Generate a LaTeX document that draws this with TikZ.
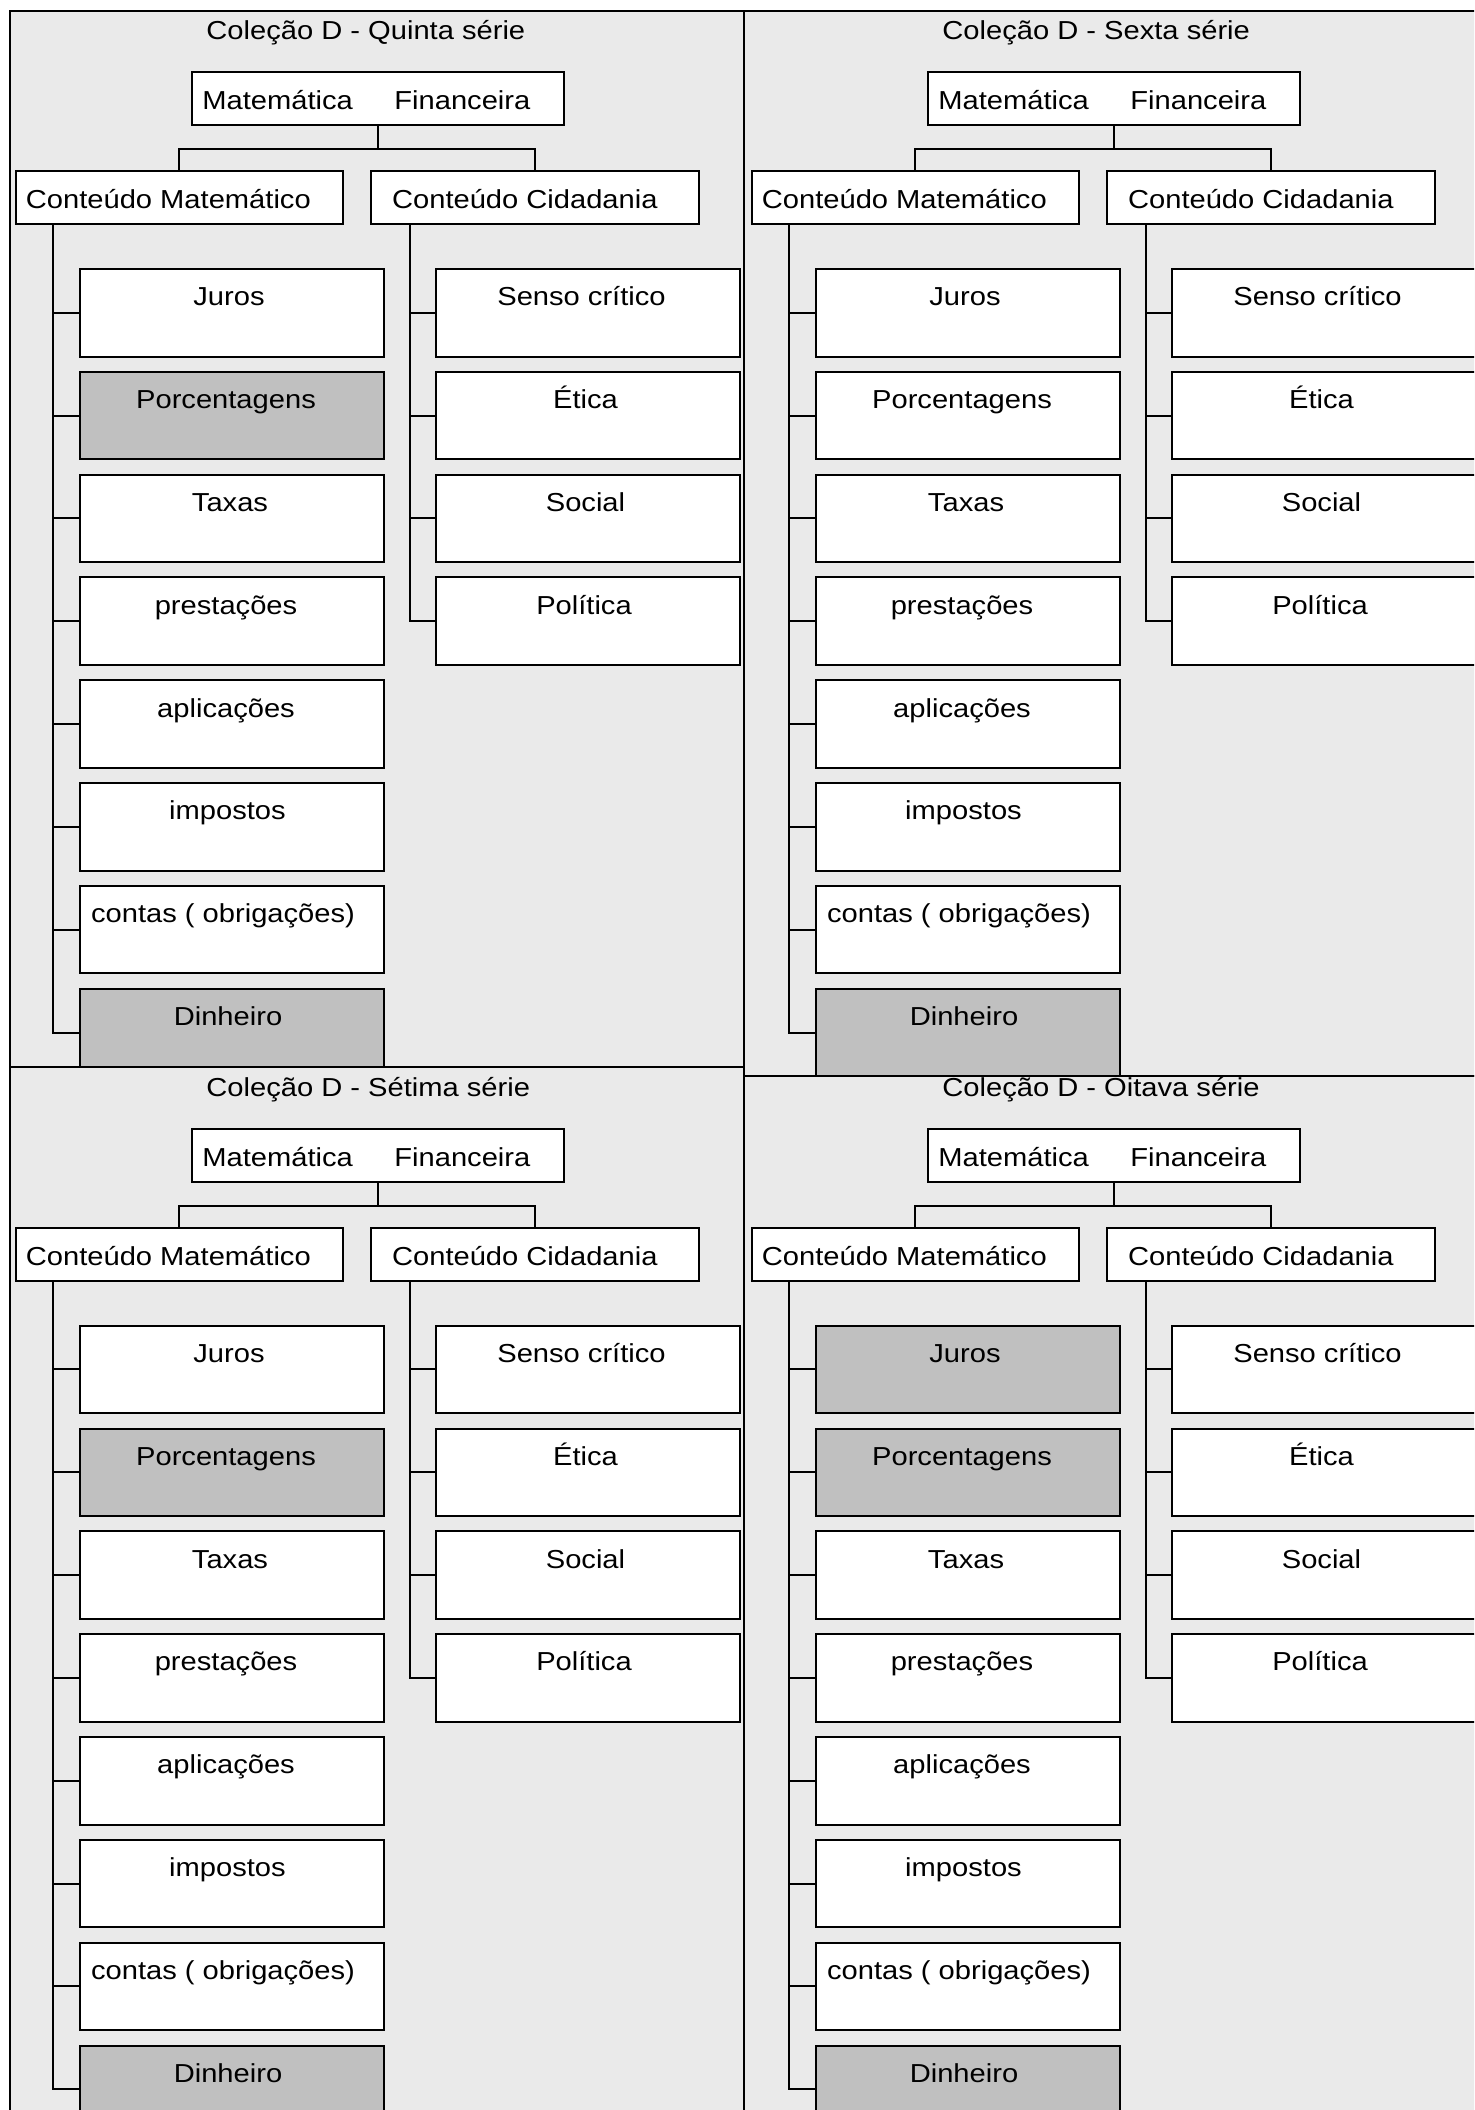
\documentclass[tikz,border=0pt]{standalone}
\usepackage{fontspec}
\setmainfont{Liberation Sans}[FakeStretch=1.12]
\usetikzlibrary{calc}
\definecolor{panelbg}{RGB}{234,234,234}
\definecolor{boxgrey}{RGB}{192,192,192}
\tikzset{
  lbl/.style={font=\fontsize{13pt}{15pt}\selectfont, inner sep=0pt, text=black},
  framebox/.style={draw=black, line width=1pt, inner sep=0pt},
  topbox/.style={framebox, fill=white, minimum width=186pt, minimum height=26.5pt},
  headbox/.style={framebox, fill=white, minimum width=163.75pt, minimum height=26.5pt},
  itembox/.style={framebox, minimum width=152pt, minimum height=43.75pt},
  link/.style={draw=black, line width=1pt},
  panelframe/.style={draw=black, line width=1pt},
}
\newcommand\panel[6]{%
  \fill[panelbg] #5;
  \begin{scope}[shift={(#2,#3)}]
    \node[lbl, anchor=base west] (#1title) at (206,39.3) {Coleção D - #4};
    \node[topbox] (#1mf) at (377.6,98.7) {};
    \node[lbl, anchor=base west] (#1mfa) at (202,109.3) {Matemática};
    \node[lbl, anchor=base west] (#1mfb) at (394,109.3) {Financeira};
    \node[headbox] (#1cm) at (179.25,197.5) {};
    \node[headbox] (#1cc) at (534.75,197.5) {};
    \node[lbl, anchor=base west] (#1cmt) at (25.5,208.3) {Conteúdo Matemático};
    \node[lbl, anchor=base west] (#1cct) at (391.7,208.3) {Conteúdo Cidadania};
    \draw[link] (#1mf.south) -- ++(0,23) -| (#1cm.north);
    \draw[link] (#1mf.south) -- ++(0,23) -| (#1cc.north);
    \coordinate (#1lt) at ($(#1cm.south west)+(38.5,0)$);
    \coordinate (#1rt) at ($(#1cc.south west)+(40,0)$);
    \foreach \txt/\fc/\tx [count=\i] in {#6} {
      \node[itembox, fill=\fc] (#1l\i) at (232,{269+(\i-1)*102.83+43.75}) {};
      \node[lbl, anchor=base] (#1lt\i) at ($(#1l\i.north)+(\tx,37.7)$) {\txt};
      \draw[link] (#1l\i.west) -| (#1lt);
    }
    \foreach \txt/\tx [count=\i] in {Senso crítico/-6.5, Ética/-2.5, Social/-2.5, Política/-4} {
      \node[itembox, fill=white] (#1r\i) at (588,{269+(\i-1)*102.83+43.75}) {};
      \node[lbl, anchor=base] (#1rt\i) at ($(#1r\i.north)+(\tx,37.7)$) {\txt};
      \draw[link] (#1r\i.west) -| (#1rt);
    }
  \end{scope}
  \draw[panelframe] #5;
}
\begin{document}
\begin{tikzpicture}[x=0.5pt,y=-0.5pt]
\useasboundingbox (0,0) rectangle (1474,2110);
\clip (0,0) rectangle (1474,2110);
\panel{pa}{0}{0}{Quinta série}{(9.5,10.7) rectangle (744,1067)}{Juros/white/-3, Porcentagens/boxgrey/-6, Taxas/white/-2, prestações/white/-6, aplicações/white/-6, impostos/white/-4.5, {contas ( obrigações)}/white/-9, Dinheiro/boxgrey/-4}
\panel{pb}{736}{0}{Sexta série}{(744,10.7) rectangle (1490,1076)}{Juros/white/-3, Porcentagens/white/-6, Taxas/white/-2, prestações/white/-6, aplicações/white/-6, impostos/white/-4.5, {contas ( obrigações)}/white/-9, Dinheiro/boxgrey/-4}
\panel{pc}{0}{1056.7}{Sétima série}{(9.5,1067) rectangle (744,2140)}{Juros/white/-3, Porcentagens/boxgrey/-6, Taxas/white/-2, prestações/white/-6, aplicações/white/-6, impostos/white/-4.5, {contas ( obrigações)}/white/-9, Dinheiro/boxgrey/-4}
\panel{pd}{736}{1056.7}{Oitava série}{(744,1076) rectangle (1490,2140)}{Juros/boxgrey/-3, Porcentagens/boxgrey/-6, Taxas/white/-2, prestações/white/-6, aplicações/white/-6, impostos/white/-4.5, {contas ( obrigações)}/white/-9, Dinheiro/boxgrey/-4}
\end{tikzpicture}
\end{document}
